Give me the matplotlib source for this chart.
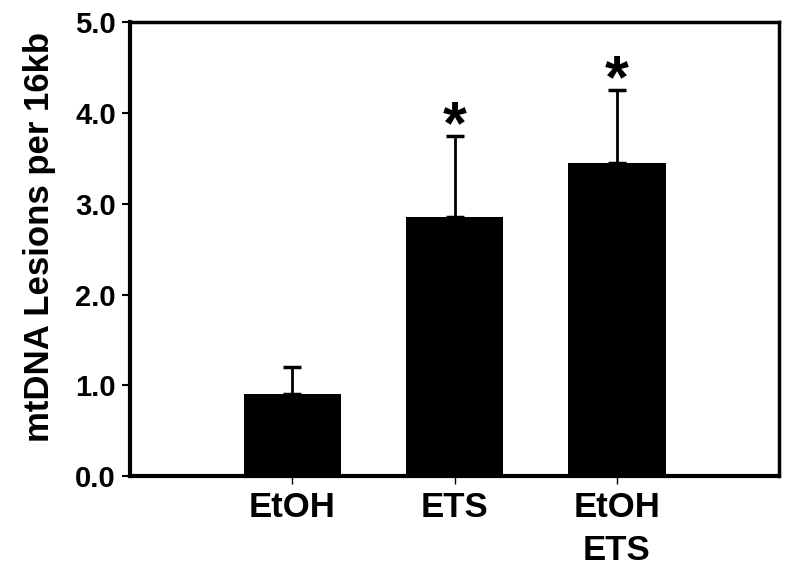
import numpy as np
import matplotlib
matplotlib.use("Agg")
import matplotlib.pyplot as plt

plt.rcParams['font.family'] = ['Liberation Sans', 'DejaVu Sans']
plt.rcParams['font.weight'] = 'bold'

# Data
groups = ["EtOH", "ETS", "EtOH\nETS"]
lesions = [0.90, 2.85, 3.45]
errors = [0.30, 0.90, 0.80]
significant = [False, True, True]
y_ticks = [0.0, 1.0, 2.0, 3.0, 4.0, 5.0]

fig = plt.figure(figsize=(8, 5.71), dpi=100)
ax = fig.add_axes([0.1625, 0.166, 0.8115, 0.7955])

x = np.arange(1, len(groups) + 1)
ax.bar(x, lesions, width=0.6, color="black", zorder=2)
ax.errorbar(x, lesions, yerr=[np.zeros(len(errors)), errors], fmt="none",
            ecolor="black", elinewidth=2, capsize=6.5, capthick=2.5, zorder=1)

# significance stars just above the error caps
for xi, val, err, sig in zip(x, lesions, errors, significant):
    if sig:
        ax.text(xi, val + err - 0.08, "*", ha="center", va="baseline",
                fontsize=44, fontweight="bold")

ax.set_xlim(0, 4)
ax.set_ylim(0, 5)
ax.set_xticks(x)
ax.set_xticklabels(groups, fontsize=25, fontweight="bold", linespacing=1.35)
ax.set_yticks(y_ticks)
ax.set_yticklabels([f"{t:.1f}" for t in y_ticks], fontsize=21, fontweight="bold")
ax.set_ylabel("mtDNA Lesions per 16kb", fontsize=25, fontweight="bold",
              labelpad=14, y=0.526)

for side in ["left", "bottom"]:
    ax.spines[side].set_linewidth(3)
for side in ["top", "right"]:
    ax.spines[side].set_linewidth(2.5)
ax.tick_params(axis="y", length=6, width=1.5, pad=4)
ax.tick_params(axis="x", length=6, width=1, pad=5)

fig.savefig("out.png", dpi=100)
